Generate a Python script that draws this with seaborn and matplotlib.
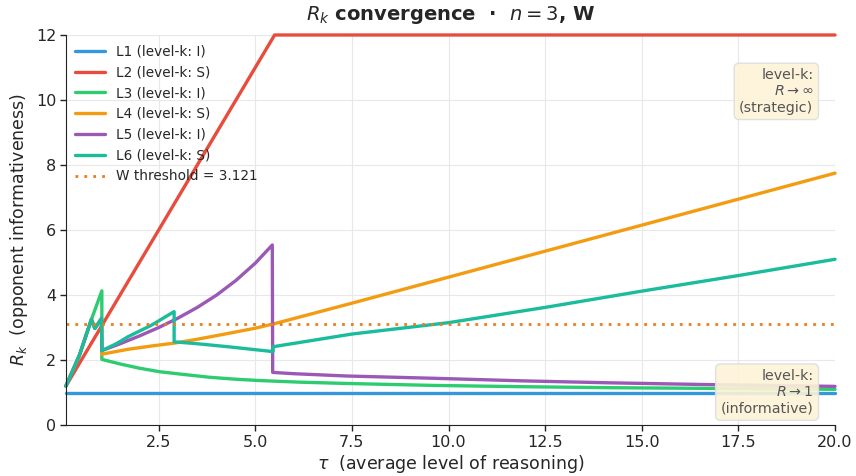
import matplotlib
matplotlib.use("Agg")
import matplotlib.pyplot as plt
import seaborn as sns
import pandas as pd

# values
series_names = ["L1 (level-k: I)", "L2 (level-k: S)", "L3 (level-k: I)",
                "L4 (level-k: S)", "L5 (level-k: I)", "L6 (level-k: S)"]
series_colors = ["#3498db", "#e74c3c", "#2ecc71", "#f39c12", "#9b59b6", "#1abc9c"]

l1_tau = [0.1, 20]
l1_r = [1.0, 1.0]

l2_tau = [0.1, 5.5, 20]
l2_r = [1.2, 12.0, 12.0]

l3_tau = [0.1, 0.45, 0.76, 1.03, 1.03, 1.5, 2.0, 2.53, 3.2, 3.82, 4.5, 5.1,
          6.15, 7.35, 9.6, 11.92, 14.16, 16.5, 18.77, 20]
l3_r = [1.2, 2.15, 3.25, 4.13, 2.02, 1.88, 1.75, 1.64, 1.55, 1.47, 1.41, 1.37,
        1.32, 1.28, 1.22, 1.18, 1.15, 1.13, 1.11, 1.10]

l4_tau = [0.1, 0.45, 0.76, 0.85, 1.02, 1.03, 1.7, 2.3, 2.9, 3.5, 4.3, 5.0, 5.5,
          7.5, 10, 12.5, 15, 17.5, 20]
l4_r = [1.2, 2.15, 3.25, 2.97, 3.28, 2.18, 2.33, 2.43, 2.52, 2.64, 2.82, 2.98, 3.12,
        3.75, 4.55, 5.35, 6.15, 6.95, 7.75]

l5_tau = [0.1, 0.45, 0.76, 0.85, 1.02, 1.03, 1.5, 2.0, 2.5, 3.0, 3.5, 4.0, 4.5,
          5.0, 5.44, 5.45, 6.0, 7.35, 9.6, 11.92, 14.16, 16.49, 18.77, 20]
l5_r = [1.2, 2.15, 3.25, 2.97, 3.28, 2.29, 2.5, 2.74, 3.0, 3.29, 3.62, 4.0, 4.45,
        4.98, 5.54, 1.62, 1.58, 1.51, 1.44, 1.36, 1.30, 1.25, 1.21, 1.19]

l6_tau = [0.1, 0.45, 0.76, 0.85, 1.02, 1.03, 1.4, 1.71, 2.31, 2.9, 2.9, 3.43, 4.29,
          5.46, 5.46, 7.5, 10, 12.5, 15, 17.5, 20]
l6_r = [1.2, 2.15, 3.25, 2.97, 3.28, 2.29, 2.5, 2.72, 3.07, 3.49, 2.56, 2.51, 2.41,
        2.26, 2.41, 2.8, 3.15, 3.62, 4.12, 4.6, 5.1]

w_threshold = 3.121

all_tau = [l1_tau, l2_tau, l3_tau, l4_tau, l5_tau, l6_tau]
all_r = [l1_r, l2_r, l3_r, l4_r, l5_r, l6_r]

frames = []
for name, tau, r in zip(series_names, all_tau, all_r):
    frames.append(pd.DataFrame({"tau": tau, "R": r, "line": name}))
df = pd.concat(frames, ignore_index=True)

sns.set_style("whitegrid", {
    "axes.edgecolor": "#222222",
    "grid.color": "#e8e8e8",
    "xtick.bottom": True,
    "ytick.left": True,
})

fig, ax = plt.subplots(figsize=(8.56, 4.76), dpi=100)
fig.subplots_adjust(left=0.077, right=0.9755, top=0.9265, bottom=0.107)

sns.lineplot(data=df, x="tau", y="R", hue="line", palette=series_colors,
             estimator=None, sort=False, units="line", linewidth=2.4, ax=ax)
for line in ax.get_lines():
    line.set_clip_on(False)
ax.axhline(w_threshold, color="#e67e22", linestyle=(0, (1, 2.2)), linewidth=2,
           label=f"W threshold = {w_threshold}")

ax.set_xlim(0.1, 20)
ax.set_ylim(0, 12)
ax.set_yticks([0, 2, 4, 6, 8, 10, 12])
ax.tick_params(labelsize=11.5, length=4, width=1, color="#222222", pad=3)
sns.despine(ax=ax)

ax.set_xlabel(r"$\tau$  (average level of reasoning)", fontsize=12.5, labelpad=2)
ax.set_ylabel(r"$R_k$  (opponent informativeness)", fontsize=12.5)
ax.set_title(r"$R_k$ convergence  ·  $n = 3$, W", fontsize=14,
             fontweight="bold", pad=11)

handles, labels = ax.get_legend_handles_labels()
ax.legend(handles, labels, loc="upper left", frameon=False, fontsize=9.8,
          handlelength=2.2, borderaxespad=0.3, labelspacing=0.5)

box = dict(boxstyle="round,pad=0.35", facecolor="#fdf3d7", edgecolor="#dddddd",
           alpha=0.9)
ax.text(0.972, 0.915, "level-k:\n$R \\to \\infty$\n(strategic)",
        transform=ax.transAxes, ha="right", va="top", fontsize=10.3,
        color="#555555", bbox=box, linespacing=1.2)
ax.text(0.972, 0.025, "level-k:\n$R \\to 1$\n(informative)",
        transform=ax.transAxes, ha="right", va="bottom", fontsize=10.3,
        color="#555555", bbox=box, linespacing=1.2)

fig.savefig("out.png", dpi=100)
